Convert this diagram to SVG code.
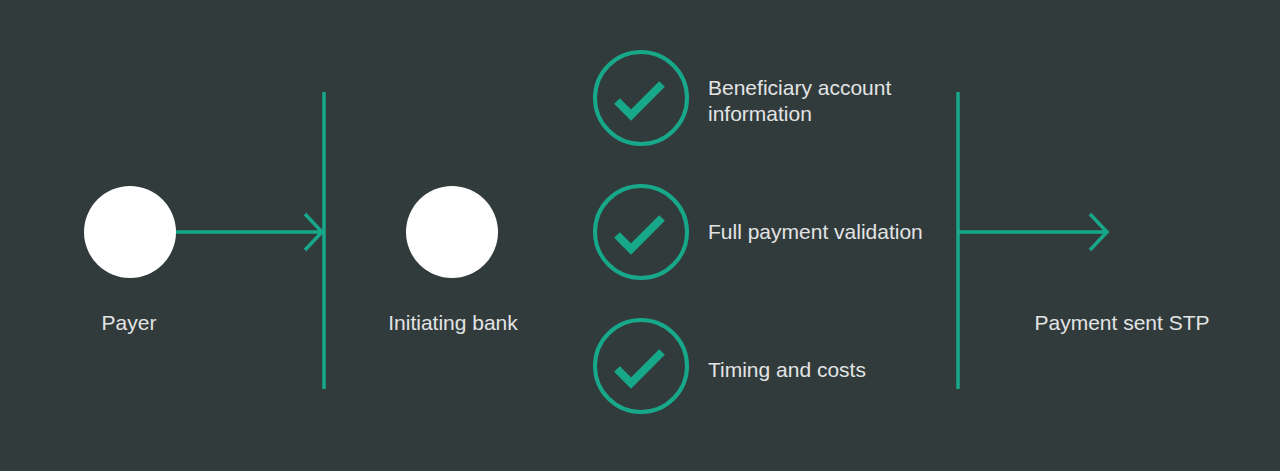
<svg xmlns="http://www.w3.org/2000/svg" width="1280" height="471" viewBox="0 0 1280 471">
<style>
.bg{fill:#323b3c}
.dot{fill:#ffffff}
.ring{fill:none;stroke:#17a88a;stroke-width:4}
.tick{fill:none;stroke:#17a88a;stroke-width:8;stroke-linecap:butt;stroke-linejoin:miter}
.ln{fill:none;stroke:#17a88a;stroke-width:3.5}
.lbl{font-family:"Liberation Sans",Arial,sans-serif;font-size:21px;fill:#e2e4e4}
</style>
<rect class="bg" x="0" y="0" width="1280" height="471"/>
<g id="payer">
<circle class="dot" cx="130" cy="232" r="46"/>
<text class="lbl" x="129" y="330" text-anchor="middle">Payer</text>
</g>
<g id="initiating-bank">
<circle class="dot" cx="452" cy="232" r="46"/>
<text class="lbl" x="453" y="330" text-anchor="middle">Initiating bank</text>
</g>
<g id="check-beneficiary">
<circle class="ring" cx="641" cy="98" r="46"/>
<polyline class="tick" points="617,101 631,115 662,84"/>
<text class="lbl" x="708" y="95">Beneficiary account</text>
<text class="lbl" x="708" y="121">information</text>
</g>
<g id="check-validation">
<circle class="ring" cx="641" cy="232" r="46"/>
<polyline class="tick" points="617,235 631,249 662,218"/>
<text class="lbl" x="708" y="239">Full payment validation</text>
</g>
<g id="check-timing">
<circle class="ring" cx="641" cy="366" r="46"/>
<polyline class="tick" points="617,369 631,383 662,352"/>
<text class="lbl" x="708" y="377">Timing and costs</text>
</g>
<g id="payment-sent">
<text class="lbl" x="1122" y="330" text-anchor="middle">Payment sent STP</text>
</g>
<g id="connectors">
<line class="ln" x1="324" y1="92" x2="324" y2="389"/>
<line class="ln" x1="958" y1="92" x2="958" y2="389"/>
<line class="ln" x1="176" y1="232" x2="323" y2="232"/>
<polyline class="ln" points="305,214 322,232 305,250"/>
<line class="ln" x1="958" y1="232" x2="1107" y2="232"/>
<polyline class="ln" points="1090,214 1107,232 1090,250"/>
</g>
</svg>
